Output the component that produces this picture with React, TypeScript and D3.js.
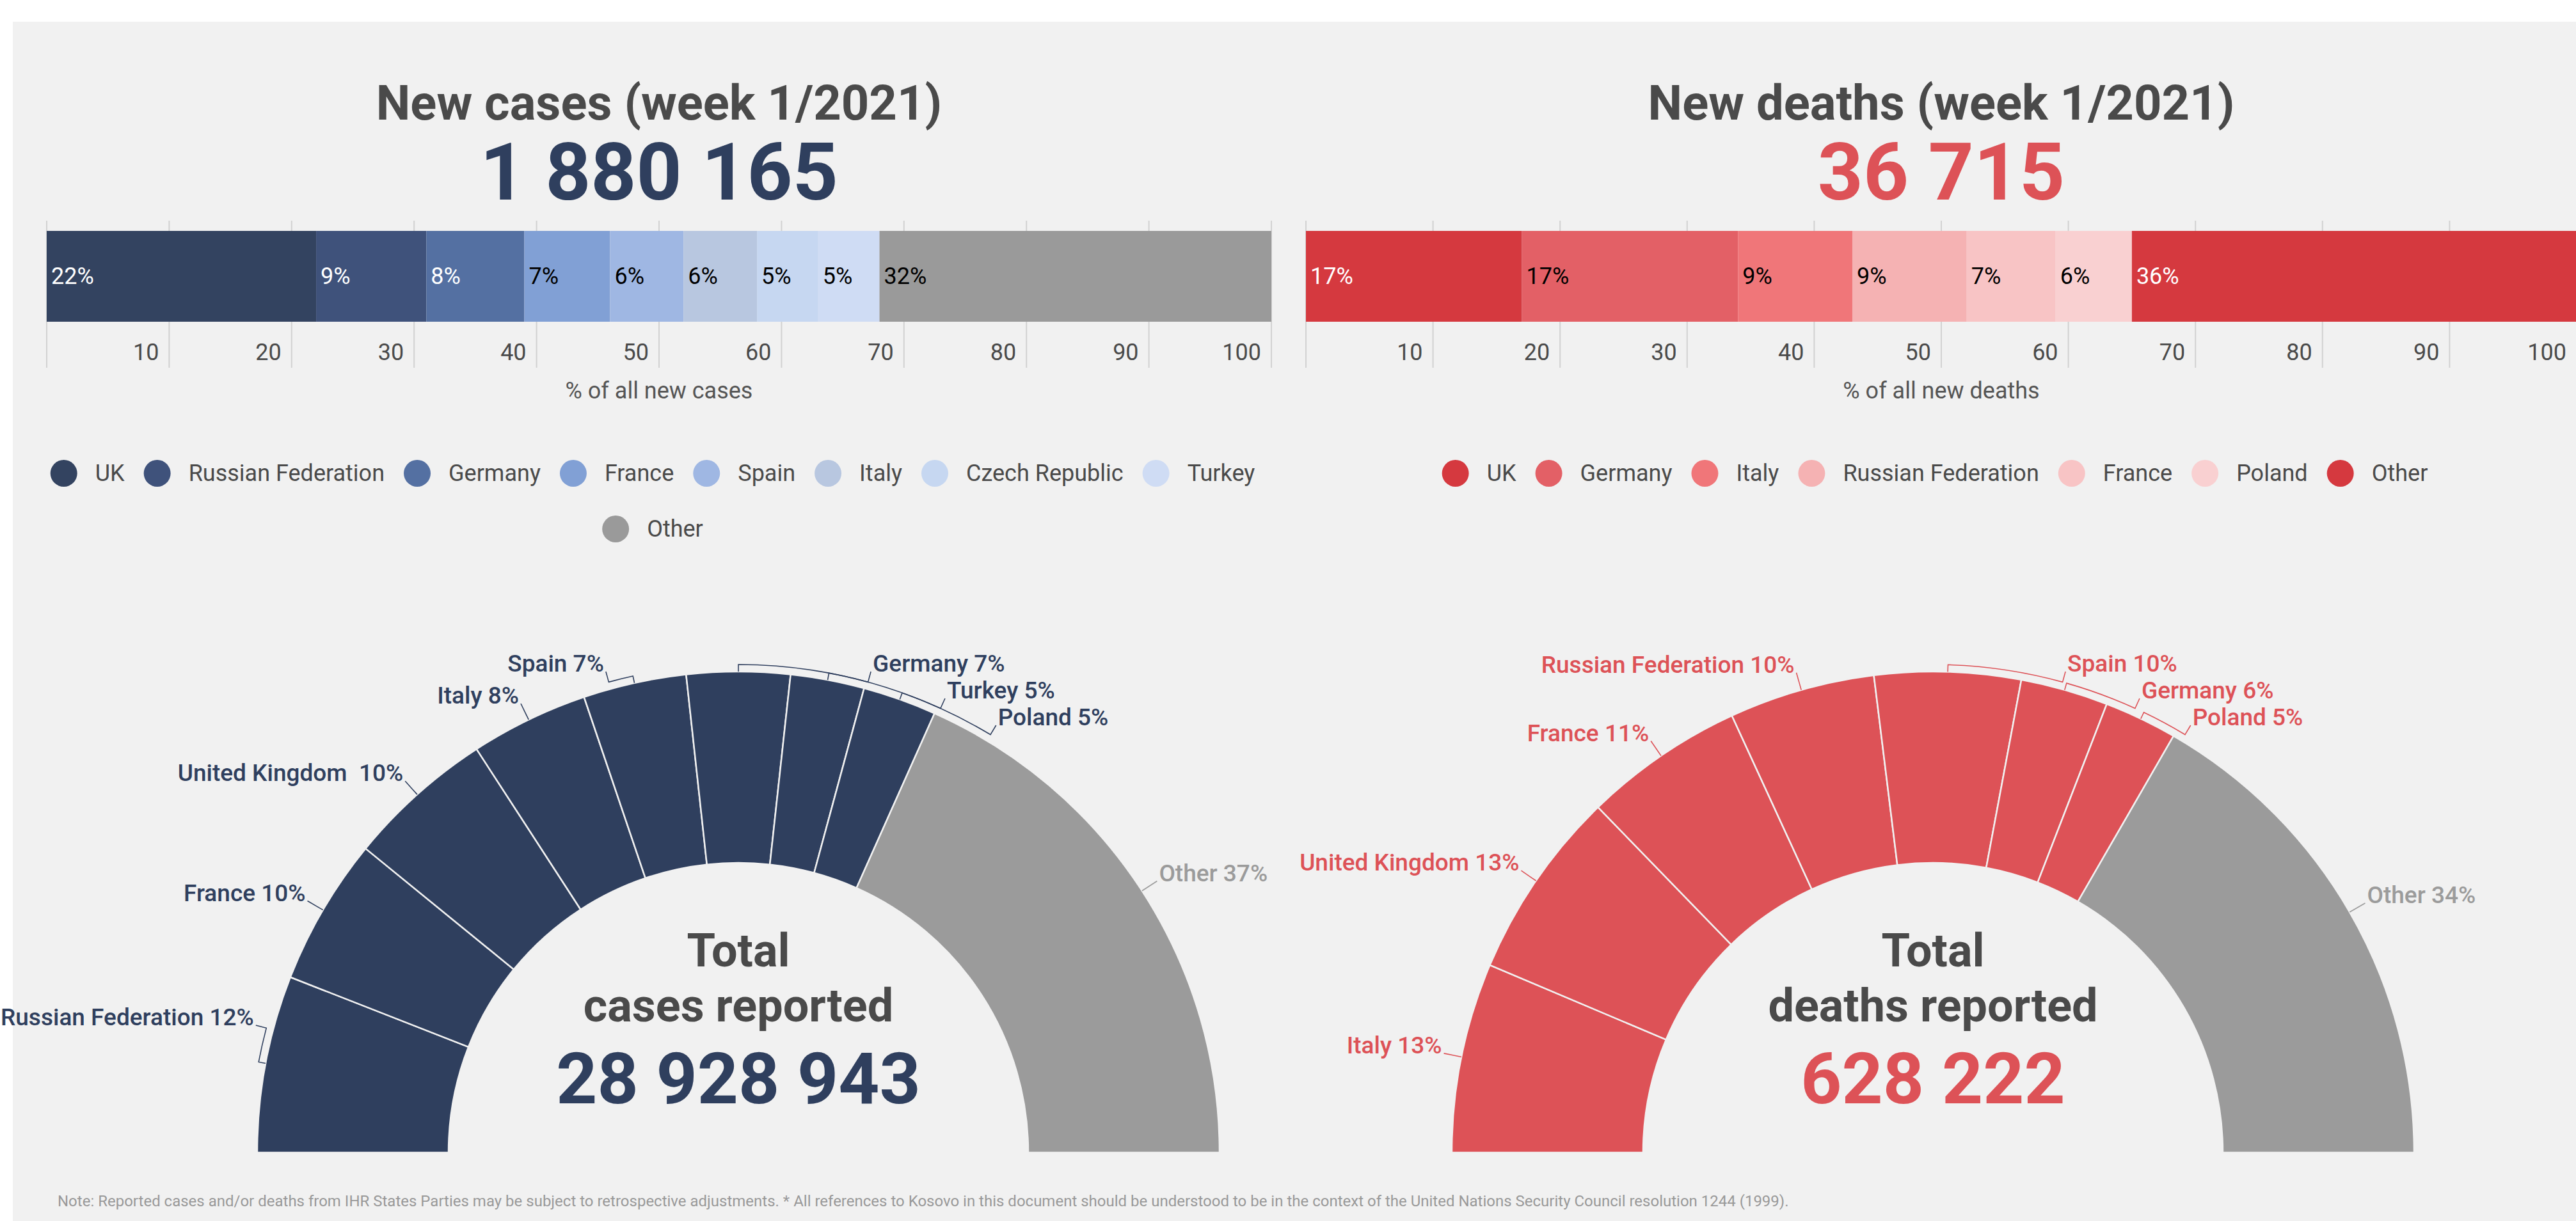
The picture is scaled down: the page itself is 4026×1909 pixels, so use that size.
import React, { useRef, useEffect } from 'react';
import * as d3 from 'd3';

const WIDTH = 4026;
const HEIGHT = 1909;
const FONT = "Roboto, 'Noto Sans', sans-serif";

// new cases, week 1/2021 (% of all new cases)
const newCasesTitle = 'New cases (week 1/2021)';
const newCasesTotal = '1 880 165';
const newCasesCountries = ['UK', 'Russian Federation', 'Germany', 'France', 'Spain', 'Italy', 'Czech Republic', 'Turkey', 'Other'];
const newCasesShares = [22, 9, 8, 7, 6, 6, 5, 5, 32];

// new deaths, week 1/2021 (% of all new deaths)
const newDeathsTitle = 'New deaths (week 1/2021)';
const newDeathsTotal = '36 715';
const newDeathsCountries = ['UK', 'Germany', 'Italy', 'Russian Federation', 'France', 'Poland', 'Other'];
const newDeathsShares = [17, 17, 9, 9, 7, 6, 36];

const axisTicks = [10, 20, 30, 40, 50, 60, 70, 80, 90, 100];

// cumulative totals
const totalCasesLabel = 'cases reported';
const totalCases = '28 928 943';
const totalCasesCountries = ['Russian Federation', 'France', 'United Kingdom ', 'Italy', 'Spain', 'Germany', 'Turkey', 'Poland', 'Other'];
const totalCasesShares = [12, 10, 10, 8, 7, 7, 5, 5, 37];

const totalDeathsLabel = 'deaths reported';
const totalDeaths = '628 222';
const totalDeathsCountries = ['Italy', 'United Kingdom', 'France', 'Russian Federation', 'Spain', 'Germany', 'Poland', 'Other'];
const totalDeathsShares = [13, 13, 11, 10, 10, 6, 5, 34];

const note = 'Note: Reported cases and/or deaths from IHR States Parties may be subject to retrospective adjustments. * All references to Kosovo in this document should be understood to be in the context of the United Nations Security Council resolution 1244 (1999).';

// colours
const casesBarColors = ['#334360', '#3f527b', '#5470a2', '#81a0d5', '#9fb7e3', '#b8c7e0', '#c6d7f1', '#cfdcf4', '#9a9a9a'];
const deathsBarColors = ['#d5393f', '#e36066', '#f07679', '#f5b2b3', '#f8c4c5', '#f9d0d1', '#d5393f'];
const navy = '#2f3f5e';
const red = '#dd5257';
const grey = '#9b9b9b';
const ink = '#4a4a4a';
const bg = '#f1f1f1';

const panels = [
  {
    title: newCasesTitle, total: newCasesTotal, accent: navy,
    countries: newCasesCountries, shares: newCasesShares, colors: casesBarColors,
    axisTitle: '% of all new cases', range: [73, 1987],
    gauge: { cx: 1154, countries: totalCasesCountries, shares: totalCasesShares, label: totalCasesLabel, total: totalCases, left: 0, right: 2013 },
  },
  {
    title: newDeathsTitle, total: newDeathsTotal, accent: red,
    countries: newDeathsCountries, shares: newDeathsShares, colors: deathsBarColors,
    axisTitle: '% of all new deaths', range: [2041, 4027],
    gauge: { cx: 3021, countries: totalDeathsCountries, shares: totalDeathsShares, label: totalDeathsLabel, total: totalDeaths, left: 2013, right: WIDTH },
  },
];

function measure(g: any, txt: string, size: number, weight = 400) {
  const t = g.append('text').attr('font-size', size).attr('font-weight', weight).style('white-space', 'pre').text(txt);
  const w = t.node().getComputedTextLength();
  t.remove();
  return w;
}

function drawLegend(g: any, names: string[], colors: string[], cx: number, y0: number, maxW: number) {
  const r = 21, gapText = 28, gapItem = 30, rowH = 87, fs = 36;
  const widths = names.map(n => 2 * r + gapText + measure(g, n, fs));
  const rows: number[][] = [];
  let cur: number[] = [];
  let curW = 0;
  names.forEach((n, i) => {
    const add = cur.length ? gapItem + widths[i] : widths[i];
    if (cur.length && curW + add > maxW) {
      rows.push(cur);
      cur = [];
      curW = 0;
    }
    curW += cur.length ? gapItem + widths[i] : widths[i];
    cur.push(i);
  });
  if (cur.length) rows.push(cur);

  rows.forEach((row, ri) => {
    const rw = d3.sum(row, i => widths[i]) + gapItem * (row.length - 1);
    let xx = cx - rw / 2;
    const y = y0 + ri * rowH;
    row.forEach(i => {
      g.append('circle').attr('cx', xx + r).attr('cy', y).attr('r', r).attr('fill', colors[i]);
      g.append('text').attr('x', xx + 2 * r + gapText).attr('y', y + 12)
        .attr('font-size', fs).attr('fill', ink).text(names[i]);
      xx += widths[i] + gapItem;
    });
  });
}

function drawGauge(svg: any, gp: any, accent: string) {
  const cy = 1802, outer = 752, inner = 453;
  const RL = 780, RT = 763, gap = 42, fs = 37, fw = 500;
  const g = svg.append('g').attr('transform', `translate(${gp.cx},${cy})`).style('font-family', FONT);

  const pie = d3.pie<number>().sort(null).startAngle(-Math.PI / 2).endAngle(Math.PI / 2);
  const arcs = pie(gp.shares);
  const arc = d3.arc<any>().innerRadius(inner).outerRadius(outer);
  const last = gp.shares.length - 1;
  const colorOf = (i: number) => (i === last ? grey : accent);

  g.selectAll('path.slice').data(arcs).join('path')
    .attr('class', 'slice')
    .attr('d', arc)
    .attr('fill', (d: any, i: number) => colorOf(i))
    .attr('stroke', bg)
    .attr('stroke-width', 2.5);

  // outside labels, spread so they don't collide
  const labels = arcs.map((d: any, i: number) => {
    const a = (d.startAngle + d.endAngle) / 2;
    const text = `${gp.countries[i]} ${gp.shares[i]}%`;
    return { i, a, right: a > -1e-6, y: -RL * Math.cos(a), x: 0, text, w: measure(g, text, fs, fw) };
  });

  [false, true].forEach(side => {
    const ls = labels.filter(l => l.right === side).sort((p, q) => p.y - q.y);
    ls.forEach((l, k) => {
      l.y = Math.max(l.y, -outer);
      if (k > 0) l.y = Math.max(l.y, ls[k - 1].y + gap);
      // keep the text inside its half of the picture
      const room = side ? gp.right - gp.cx - 4 - l.w : gp.cx - gp.left - 4 - l.w;
      if (room < RL && Math.sqrt(Math.max(0, RL * RL - l.y * l.y)) > room) {
        l.y = -Math.sqrt(RL * RL - room * room);
      }
      l.x = (side ? 1 : -1) * Math.sqrt(Math.max(0, RL * RL - l.y * l.y));
    });
  });

  labels.forEach(l => {
    const c = colorOf(l.i);
    const al = Math.atan2(l.x, -l.y);
    const p0 = [outer * Math.sin(l.a), -outer * Math.cos(l.a)];
    const p1 = [RT * Math.sin(l.a), -RT * Math.cos(l.a)];
    const p2 = [RT * Math.sin(al), -RT * Math.cos(al)];
    const sweep = al > l.a ? 1 : 0;
    g.append('path')
      .attr('d', `M${p0[0]},${p0[1]}L${p1[0]},${p1[1]}A${RT},${RT} 0 0 ${sweep} ${p2[0]},${p2[1]}L${l.x},${l.y}`)
      .attr('fill', 'none').attr('stroke', c).attr('stroke-width', 1.6);
    g.append('text')
      .attr('x', l.x + (l.right ? 3 : -3)).attr('y', l.y)
      .attr('text-anchor', l.right ? 'start' : 'end')
      .attr('font-size', fs).attr('font-weight', fw).attr('fill', c)
      .style('white-space', 'pre')
      .text(l.text);
  });

  g.append('text').attr('x', 0).attr('y', 1511 - cy).attr('text-anchor', 'middle')
    .attr('font-size', 72).attr('font-weight', 700).attr('fill', ink).text('Total');
  g.append('text').attr('x', 0).attr('y', 1597 - cy).attr('text-anchor', 'middle')
    .attr('font-size', 72).attr('font-weight', 700).attr('fill', ink).text(gp.label);
  g.append('text').attr('x', 0).attr('y', 1725 - cy).attr('text-anchor', 'middle')
    .attr('font-size', 112).attr('font-weight', 700).attr('fill', accent).text(gp.total);
}

function drawPanel(svg: any, p: any) {
  const x = d3.scaleLinear().domain([0, 100]).range(p.range);
  const mid = (p.range[0] + p.range[1]) / 2;
  const g = svg.append('g').style('font-family', FONT);

  g.append('text').attr('x', mid).attr('y', 187).attr('text-anchor', 'middle')
    .attr('font-size', 76).attr('font-weight', 700).attr('fill', ink).text(p.title);
  g.append('text').attr('x', mid).attr('y', 312).attr('text-anchor', 'middle')
    .attr('font-size', 124).attr('font-weight', 700).attr('fill', p.accent).text(p.total);

  // grid
  g.append('g').selectAll('line').data(x.ticks(10)).join('line')
    .attr('x1', (d: number) => x(d)).attr('x2', (d: number) => x(d))
    .attr('y1', 345).attr('y2', 575)
    .attr('stroke', '#d2d2d2').attr('stroke-width', 2);

  g.append('g').selectAll('text').data(axisTicks).join('text')
    .attr('x', (d: number) => x(d) - 16).attr('y', 563)
    .attr('text-anchor', 'end').attr('font-size', 36).attr('fill', ink)
    .text((d: number) => d);

  g.append('text').attr('x', mid).attr('y', 623).attr('text-anchor', 'middle')
    .attr('font-size', 36).attr('fill', '#555').text(p.axisTitle);

  // stacked 100% bar
  const ends = Array.from(d3.cumsum(p.shares));
  const segs = p.shares.map((v: number, i: number) => ({ v, start: ends[i] - v, color: p.colors[i] }));
  const barY = 361, barH = 142;
  g.append('g').selectAll('rect').data(segs).join('rect')
    .attr('x', (d: any) => x(d.start)).attr('y', barY)
    .attr('width', (d: any) => x(d.start + d.v) - x(d.start)).attr('height', barH)
    .attr('fill', (d: any) => d.color);
  g.append('g').selectAll('text').data(segs).join('text')
    .attr('x', (d: any) => x(d.start) + 7).attr('y', barY + barH / 2 + 12)
    .attr('font-size', 36)
    .attr('fill', (d: any) => (d3.hsl(d.color).l < 0.55 ? '#fff' : '#000'))
    .text((d: any) => `${d.v}%`);

  drawLegend(g, p.countries, p.colors, mid - 10, 740, 1960);
  drawGauge(svg, p.gauge, p.accent);
}

function WhoEuropeWeekly() {
  const ref = useRef<SVGSVGElement>(null);

  useEffect(() => {
    draw();
    const fonts = (document as any).fonts;
    if (fonts && fonts.ready) fonts.ready.then(() => draw());
  });

  const draw = () => {
    const svg = d3.select(ref.current);
    svg.selectAll('*').remove();
    svg.append('rect').attr('width', WIDTH).attr('height', HEIGHT).attr('fill', '#fff');
    svg.append('rect').attr('x', 20).attr('y', 34).attr('width', WIDTH - 20).attr('height', HEIGHT - 34).attr('fill', bg);

    panels.forEach(p => drawPanel(svg, p));

    svg.append('text').attr('x', 90).attr('y', 1886)
      .style('font-family', FONT).attr('font-size', 24).attr('fill', '#999')
      .text(note);
  };

  return (
    <svg ref={ref} width={WIDTH} height={HEIGHT}
      style={{ position: 'absolute', left: 0, top: 0, display: 'block' }} />
  );
}

export default function App() {
  return <WhoEuropeWeekly />;
}
